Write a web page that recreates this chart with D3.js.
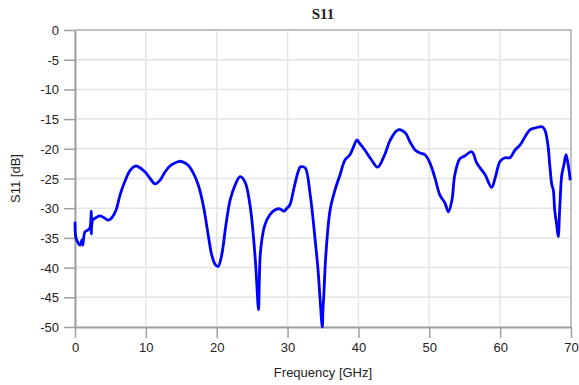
<!DOCTYPE html>
<html>
<head>
<meta charset="utf-8">
<script src="https://cdn.jsdelivr.net/npm/d3@7"></script>
<style>
  body { margin: 0; background: #fff; }
  text { font-family: "Liberation Sans", Arial, sans-serif; fill: #222; }
</style>
</head>
<body>
<div id="chart"></div>
<script>
const width = 579;
const height = 385;
const margin = {top: 30, right: 8, bottom: 58, left: 75};

// S11 trace
const freqGHz = [0, 0.1, 0.3, 0.7, 1.0, 1.1, 1.4, 1.8, 2.1, 2.3, 2.3, 2.35, 2.5, 3.1, 3.5, 4.1, 4.7, 5.2, 5.8, 6.35, 7.1, 7.8, 8.5, 8.9, 9.9, 10.6, 11.3, 12.0, 12.7, 13.4, 14.1, 14.7, 15.2, 15.9, 16.7, 17.4, 18.1, 18.8, 19.3, 19.8, 20.2, 20.7, 21.3, 21.9, 22.6, 23.3, 24.0, 24.7, 25.1, 25.5, 25.9, 26.0, 26.2, 26.8, 27.5, 28.2, 28.9, 29.5, 29.9, 30.3, 31.0, 31.75, 32.0, 32.5, 33.2, 33.9, 34.3, 34.6, 34.9, 35.0, 35.1, 35.4, 36.0, 36.7, 37.4, 38.1, 38.8, 39.8, 40.0, 40.9, 41.8, 42.7, 43.7, 44.5, 45.6, 46.6, 47.3, 48.0, 48.7, 49.4, 50.1, 50.8, 51.5, 52.2, 52.7, 53.2, 53.6, 54.3, 55.0, 56.0, 56.7, 57.4, 57.9, 58.8, 59.3, 60.0, 60.7, 61.4, 62.1, 62.8, 63.5, 64.2, 64.9, 65.6, 65.9, 66.3, 66.75, 67.0, 67.3, 67.5, 67.7, 68.0, 68.2, 68.4, 68.7, 69.0, 69.3, 69.6, 69.9];
const s11dB = [-32.3, -34.8, -35.5, -36.2, -35.3, -36.2, -34.0, -33.7, -33.3, -30.5, -34.3, -33.0, -32.0, -31.5, -31.3, -31.6, -32.0, -31.6, -30.3, -27.8, -25.3, -23.6, -22.9, -23.0, -23.9, -25.0, -25.9, -25.3, -23.9, -22.9, -22.4, -22.1, -22.2, -22.7, -24.1, -26.1, -29.5, -34.5, -37.9, -39.5, -39.8, -37.9, -32.8, -28.6, -26.1, -24.7, -25.6, -29.5, -33.7, -39.6, -47.1, -42.9, -37.0, -32.8, -31.1, -30.3, -30.1, -30.5, -30.0, -29.5, -26.1, -23.1, -23.0, -23.2, -27.8, -35.4, -40.4, -45.5, -50, -47, -45.0, -37.9, -30.3, -26.9, -24.4, -21.9, -21.0, -18.5, -18.8, -20.2, -21.8, -23.1, -21.0, -18.5, -16.8, -17.3, -18.9, -20.2, -20.7, -21.0, -22.4, -24.9, -27.8, -29.1, -30.6, -28.6, -24.4, -21.7, -21.2, -20.5, -22.4, -23.6, -24.4, -26.5, -24.9, -22.1, -21.5, -21.5, -20.2, -19.4, -18.0, -16.8, -16.5, -16.3, -16.3, -16.8, -19.4, -22.7, -26.1, -26.9, -30.3, -33.0, -34.8, -30.3, -24.4, -22.7, -21.0, -22.7, -25.3];

const xTicks = [0, 10, 20, 30, 40, 50, 60, 70];
const yTicks = [0, -5, -10, -15, -20, -25, -30, -35, -40, -45, -50];

const svg = d3.select("#chart")
    .append("svg")
    .attr("width", width)
    .attr("height", height);

const x = d3.scaleLinear()
    .domain([0, 70])
    .range([margin.left, width - margin.right]);

const y = d3.scaleLinear()
    .domain([-50, 0])
    .range([height - margin.bottom, margin.top]);

// grid lines
svg.append("g")
    .selectAll("line.vg")
    .data(xTicks)
    .enter()
    .append("line")
    .attr("x1", d => x(d)).attr("x2", d => x(d))
    .attr("y1", y(0)).attr("y2", y(-50))
    .attr("stroke", "#e4e4e4")
    .attr("stroke-width", 1.5);

svg.append("g")
    .selectAll("line.hg")
    .data(yTicks)
    .enter()
    .append("line")
    .attr("x1", x(0)).attr("x2", x(70))
    .attr("y1", d => y(d)).attr("y2", d => y(d))
    .attr("stroke", "#e4e4e4")
    .attr("stroke-width", 1.5);

// frame (top / right)
svg.append("path")
    .attr("d", `M${x(0)},${y(0)}H${x(70)}V${y(-50)}`)
    .attr("fill", "none")
    .attr("stroke", "#b4b4b4")
    .attr("stroke-width", 1.5);

// axes - plain hyphen for negatives, like the original
const plain = d => String(d);

const xAxis = svg.append("g")
    .attr("transform", `translate(0,${y(-50)})`)
    .call(d3.axisBottom(x).tickValues(xTicks).tickFormat(plain).tickSize(11).tickSizeOuter(0).tickPadding(5));

const yAxis = svg.append("g")
    .attr("transform", `translate(${x(0)},0)`)
    .call(d3.axisLeft(y).tickValues(yTicks).tickFormat(plain).tickSize(11).tickSizeOuter(0).tickPadding(5));

[xAxis, yAxis].forEach(ax => {
    ax.select(".domain").attr("stroke", "#a0a0a0").attr("stroke-width", 2);
    ax.selectAll(".tick line").attr("stroke", "#a0a0a0").attr("stroke-width", 1.5);
    ax.selectAll(".tick text")
        .style("font-family", "'Liberation Sans', Arial, sans-serif")
        .style("font-size", "13px")
        .attr("fill", "#222");
});
yAxis.selectAll(".tick text").attr("dy", "0.35em");

// trace
const line = d3.line()
    .x((d, i) => x(freqGHz[i]))
    .y(d => y(Math.max(d, -50)))
    .curve(d3.curveCatmullRom.alpha(0.5));

svg.append("path")
    .datum(s11dB)
    .attr("d", line)
    .attr("fill", "none")
    .attr("stroke", "#0000ff")
    .attr("stroke-width", 2.8)
    .attr("stroke-linejoin", "round");

// labels
svg.append("text")
    .attr("x", (x(0) + x(70)) / 2)
    .attr("y", 19)
    .attr("text-anchor", "middle")
    .style("font-family", "'Liberation Serif', 'Times New Roman', serif")
    .style("font-weight", "bold")
    .style("font-size", "15px")
    .text("S11");

svg.append("text")
    .attr("x", (x(0) + x(70)) / 2)
    .attr("y", 377)
    .attr("text-anchor", "middle")
    .style("font-size", "13px")
    .text("Frequency [GHz]");

svg.append("text")
    .attr("transform", `translate(20,${(y(0) + y(-50)) / 2}) rotate(-90)`)
    .attr("text-anchor", "middle")
    .style("font-size", "13px")
    .text("S11 [dB]");
</script>
</body>
</html>
